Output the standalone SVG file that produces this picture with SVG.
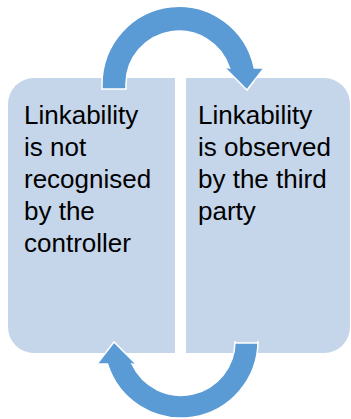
<svg xmlns="http://www.w3.org/2000/svg" width="351" height="419" viewBox="0 0 351 419">
  <style>
    .box { fill: #C5D5EA; }
    .arrow { fill: #5B9BD5; stroke: #FFFFFF; stroke-width: 1.5; stroke-linejoin: miter; }
    .label { font-family: "Liberation Sans", Arial, sans-serif; font-size: 26px; fill: #000000; }
  </style>
  <rect width="351" height="419" fill="#FFFFFF"/>
  <g id="node-left">
    <path class="box" d="M 175,78 L 175,353 L 34,353 A 26 26 0 0 1 8,327 L 8,104 A 26 26 0 0 1 34,78 Z"/>
    <text class="label" x="24">
      <tspan x="24" y="124">Linkability</tspan>
      <tspan x="24" y="156">is not</tspan>
      <tspan x="24" y="188">recognised</tspan>
      <tspan x="24" y="220">by the</tspan>
      <tspan x="24" y="252">controller</tspan>
    </text>
  </g>
  <g id="node-right">
    <path class="box" d="M 186,78 L 324,78 A 26 26 0 0 1 350,104 L 350,327 A 26 26 0 0 1 324,353 L 186,353 Z"/>
    <text class="label" x="198">
      <tspan x="198" y="124">Linkability</tspan>
      <tspan x="198" y="156">is observed</tspan>
      <tspan x="198" y="188">by the third</tspan>
      <tspan x="198" y="220">party</tspan>
    </text>
  </g>
  <g id="connectors">
    <path id="arrow-top" class="arrow" d="M 102,89 L 102,84 A 77 78 0 0 1 254.3,68 L 264,68 L 247,90 L 224,67 L 229.5,68 A 53 53 0 0 0 126,84 L 126,89 Z"/>
    <path id="arrow-bottom" class="arrow" d="M 258,343 L 258,341 A 77 77 0 0 1 107.5,364 L 97,364 L 114,342 L 137,365 L 132,364 A 54 54 0 0 0 235,341 L 235,343 Z"/>
  </g>
</svg>
